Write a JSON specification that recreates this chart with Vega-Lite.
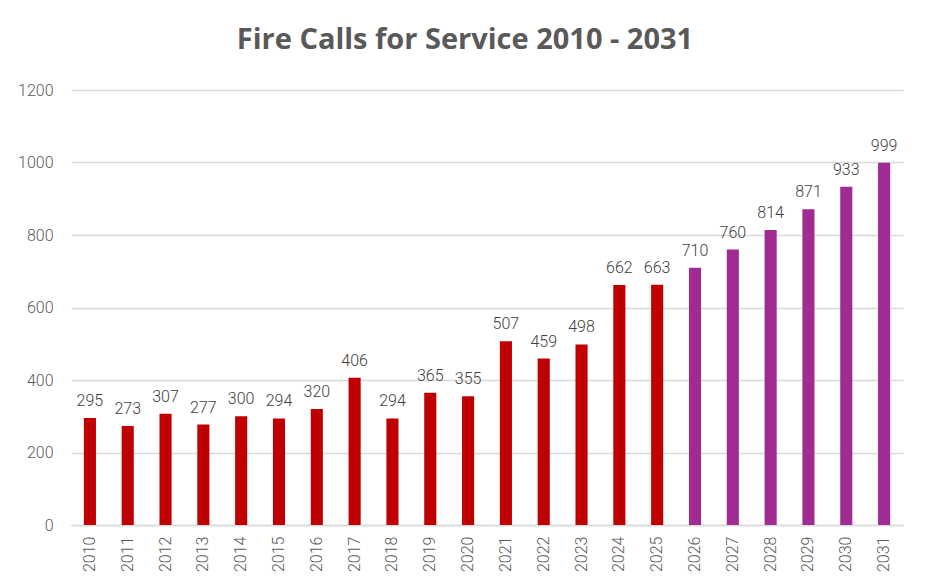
{
  "$schema": "https://vega.github.io/schema/vega-lite/v6.json",
  "width": 832,
  "height": 435,
  "autosize": {"type": "none"},
  "padding": {"left": 71, "top": 90, "right": 24, "bottom": 62},
  "background": "white",
  "title": {
    "text": "Fire Calls for Service 2010 - 2031",
    "anchor": "middle",
    "dx": -22,
    "offset": 4,
    "baseline": "alphabetic",
    "font": "Open Sans",
    "fontSize": 29,
    "fontWeight": "bold",
    "color": "#595959"
  },
  "data": {
    "values": [
      {"year": "2010", "calls": 295, "kind": "Actual"},
      {"year": "2011", "calls": 273, "kind": "Actual"},
      {"year": "2012", "calls": 307, "kind": "Actual"},
      {"year": "2013", "calls": 277, "kind": "Actual"},
      {"year": "2014", "calls": 300, "kind": "Actual"},
      {"year": "2015", "calls": 294, "kind": "Actual"},
      {"year": "2016", "calls": 320, "kind": "Actual"},
      {"year": "2017", "calls": 406, "kind": "Actual"},
      {"year": "2018", "calls": 294, "kind": "Actual"},
      {"year": "2019", "calls": 365, "kind": "Actual"},
      {"year": "2020", "calls": 355, "kind": "Actual"},
      {"year": "2021", "calls": 507, "kind": "Actual"},
      {"year": "2022", "calls": 459, "kind": "Actual"},
      {"year": "2023", "calls": 498, "kind": "Actual"},
      {"year": "2024", "calls": 662, "kind": "Actual"},
      {"year": "2025", "calls": 663, "kind": "Actual"},
      {"year": "2026", "calls": 710, "kind": "Projected"},
      {"year": "2027", "calls": 760, "kind": "Projected"},
      {"year": "2028", "calls": 814, "kind": "Projected"},
      {"year": "2029", "calls": 871, "kind": "Projected"},
      {"year": "2030", "calls": 933, "kind": "Projected"},
      {"year": "2031", "calls": 999, "kind": "Projected"}
    ]
  },
  "encoding": {
    "x": {
      "field": "year",
      "type": "ordinal",
      "title": null,
      "scale": {"paddingInner": 0.68, "paddingOuter": 0.34},
      "axis": {
        "labelAngle": -90,
        "labelFont": "Roboto",
        "labelFontSize": 16,
        "labelFontWeight": 300,
        "labelColor": "#595959",
        "labelPadding": 11,
        "ticks": false,
        "domainColor": "#D9D9D9",
        "domainWidth": 1.5
      }
    },
    "y": {
      "field": "calls",
      "type": "quantitative",
      "title": null,
      "scale": {"domain": [0, 1200]},
      "axis": {
        "values": [0, 200, 400, 600, 800, 1000, 1200],
        "format": "d",
        "labelFont": "Roboto",
        "labelFontSize": 16,
        "labelFontWeight": 300,
        "labelColor": "#595959",
        "labelPadding": 18,
        "ticks": false,
        "domain": false,
        "gridColor": "#D9D9D9",
        "gridWidth": 1.5
      }
    }
  },
  "layer": [
    {
      "mark": {"type": "bar"},
      "encoding": {
        "color": {
          "field": "kind",
          "type": "nominal",
          "scale": {"domain": ["Actual", "Projected"], "range": ["#C00000", "#A02B93"]},
          "legend": null
        }
      }
    },
    {
      "mark": {
        "type": "text",
        "baseline": "bottom",
        "dy": -9,
        "font": "Roboto",
        "fontSize": 16,
        "fontWeight": 300,
        "color": "#404040"
      },
      "encoding": {"text": {"field": "calls", "type": "quantitative"}}
    }
  ],
  "config": {"view": {"stroke": null}}
}
